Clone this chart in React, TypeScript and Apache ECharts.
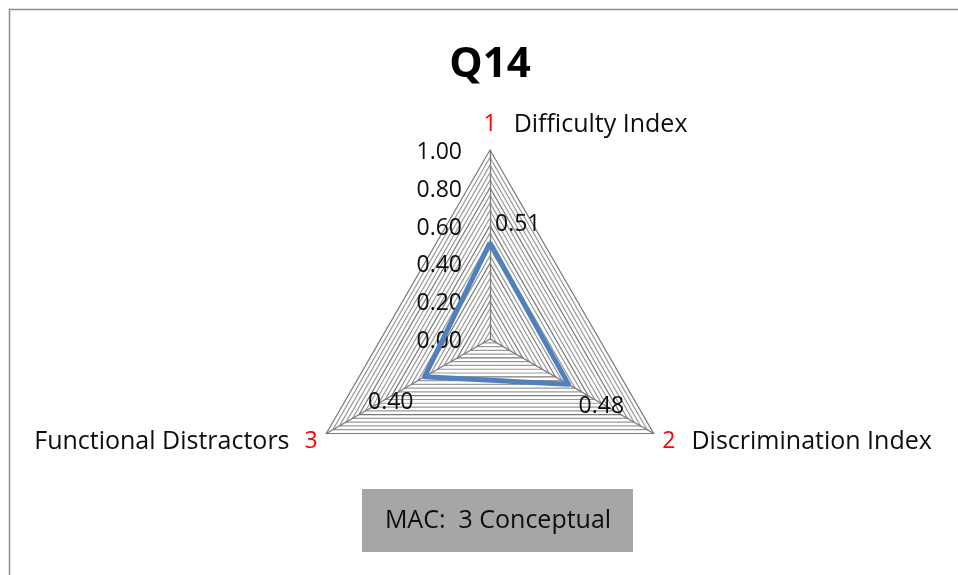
import React, { useEffect, useRef } from 'react';
import * as echarts from 'echarts';

// ---- data ----
const chartTitle = 'Q14';
const categories = ['Difficulty Index', 'Discrimination Index', 'Functional Distractors'];
const categoryNumbers = ['1', '2', '3'];
const values = [0.51, 0.48, 0.4];
const axisMin = 0;
const axisMax = 1;
const majorStep = 0.2;
const minorStep = 0.04;
const noteText = 'MAC:  3 Conceptual';

// ---- styles ----
const FONT = '"Open Sans", sans-serif';
const TXT = '#0d0d0d';
const RED = '#ff0000';
const BLUE = '#4f81bd';
const MAJOR = '#7a7a7a';
const MINOR = '#9a9a9a';
const FS = 23;
const FSN = 25;

export default function App() {
  const ref = useRef<HTMLDivElement>(null);
  useEffect(() => {
    const chart = echarts.init(ref.current!, null, { renderer: 'svg' });
    // ECharts radar goes counter-clockwise; reorder so 1 top, 2 bottom-right, 3 bottom-left
    const order = [0, 2, 1];
    const tickFmt = (v: number) => {
      const r = Math.round(v * 100) / 100;
      const k = r / majorStep;
      return Math.abs(k - Math.round(k)) < 1e-6 ? r.toFixed(2) : '';
    };
    const nPerMajor = Math.round(majorStep / minorStep);
    const splitColors = Array.from({ length: nPerMajor }, (_, i) => (i === 0 ? MAJOR : MINOR));
    const rich: any = {
      n: { color: RED, fontSize: FS, fontFamily: FONT },
      t: { color: TXT, fontSize: FSN, fontFamily: FONT },
      tt: { color: TXT, fontSize: FSN, fontFamily: FONT, width: 180 },
      g: { width: 14 },
      gr: { width: 16 },
      g2: { width: 15 },
      pad: { width: 194 },
    };
    const nameFor = (k: number) => {
      if (k === 0) return `{pad|}{n|${categoryNumbers[k]}}{g|}{tt|${categories[k]}}`;
      if (k === 1) return `{n|${categoryNumbers[k]}}{gr|}{t|${categories[k]}}`;
      return `{t|${categories[k]}}{g2|}{n|${categoryNumbers[k]}}`;
    };
    const alignFor = ['center', 'left', 'right'];
    const indicator = order.map((k) => ({
      name: nameFor(k),
      min: axisMin,
      max: axisMax,
      nameGap: k === 0 ? 28 : 10,
      nameTextStyle: { align: alignFor[k], verticalAlign: 'middle', rich },
      axisLabel:
        k === 0
          ? { show: true, margin: 28, formatter: tickFmt, fontSize: FS, color: TXT, fontFamily: FONT }
          : { show: false },
    }));
    const dispValues = order.map((k) => values[k]);
    const labelPlace = [
      { align: 'left', offset: [5, -21] },
      { align: 'left', offset: [10, 20] },
      { align: 'right', offset: [-11, 23] },
    ];
    const labelItems = categories.map((_, k) => {
      const dim = order.indexOf(k);
      return {
        value: dispValues,
        symbol: 'circle',
        symbolSize: 1,
        itemStyle: { color: 'rgba(0,0,0,0)' },
        lineStyle: { width: 0, opacity: 0 },
        label: {
          show: true,
          position: 'inside',
          align: labelPlace[k].align,
          verticalAlign: 'middle',
          offset: labelPlace[k].offset,
          fontSize: FS,
          fontFamily: FONT,
          color: TXT,
          formatter: (p: any) => (p.dimensionIndex === dim ? Number(p.value).toFixed(2) : ''),
        },
      };
    });
    chart.setOption({
      animation: false,
      radar: {
        center: [490, 339],
        radius: 189,
        shape: 'polygon',
        startAngle: 90,
        splitNumber: Math.round((axisMax - axisMin) / minorStep),
        indicator,
        axisName: { color: TXT, fontSize: FSN, fontFamily: FONT },
        axisLine: { lineStyle: { color: MAJOR, width: 1.3 } },
        splitLine: { lineStyle: { color: splitColors, width: 1.2 } },
        splitArea: { show: false },
        axisLabel: { show: false },
        axisTick: { show: false },
      },
      series: [
        {
          type: 'radar',
          silent: true,
          data: [
            {
              value: dispValues,
              symbol: 'none',
              lineStyle: { color: BLUE, width: 5 },
              itemStyle: { color: BLUE },
            },
            ...labelItems,
          ],
        },
      ],
      graphic: [
        {
          type: 'rect',
          shape: { x: 9.5, y: 9.5, width: 1000, height: 700 },
          style: { fill: 'none', stroke: '#8c8c8c', lineWidth: 1.5 },
          silent: true,
        },
        {
          type: 'text',
          x: 490,
          y: 60,
          style: {
            text: chartTitle,
            fontSize: 42,
            fontWeight: 'bold',
            fontFamily: FONT,
            fill: '#000',
            align: 'center',
            verticalAlign: 'middle',
          },
        },
        {
          type: 'rect',
          shape: { x: 362, y: 489, width: 271, height: 63 },
          style: { fill: '#a6a6a6' },
        },
        {
          type: 'text',
          x: 498,
          y: 518,
          style: {
            text: noteText,
            fontSize: 25,
            fontFamily: FONT,
            fill: TXT,
            align: 'center',
            verticalAlign: 'middle',
          },
        },
      ],
    });
    return () => chart.dispose();
  }, []);
  return <div ref={ref} style={{ position: 'fixed', left: 0, top: 0, width: 958, height: 575 }} />;
}
